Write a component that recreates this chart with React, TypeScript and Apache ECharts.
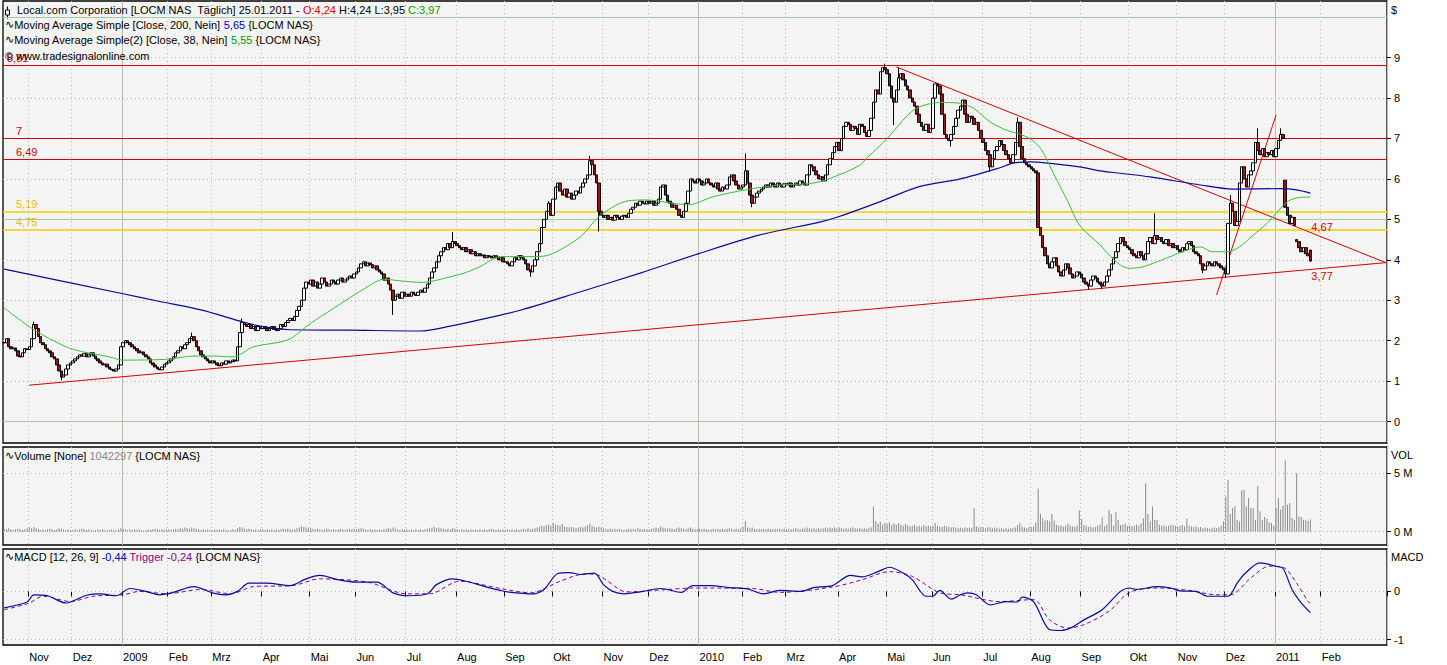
import React, { useEffect, useRef } from "react";
import * as echarts from "echarts";

const FONT = "'Liberation Sans', 'DejaVu Sans', Arial, sans-serif";
const RED = "#d80000";
const YELLOW = "#f2d200";
const YELLOW_TEXT = "#e6bf00";
const BG = "#f4f4f4";

// ---------- calendar ----------
const START = [2008, 9, 17];
const CATEGORY_COUNT = 605;
const LAST_MARKED_MONTH = "2011-02";
const HOLIDAYS = [
  "2008-11-27", "2008-12-25", "2009-01-01", "2009-01-19", "2009-02-16", "2009-04-10", "2009-05-25",
  "2009-07-03", "2009-09-07", "2009-11-26", "2009-12-25", "2010-01-01", "2010-01-18", "2010-02-15",
  "2010-04-02", "2010-05-31", "2010-07-05", "2010-09-06", "2010-11-25", "2010-12-24", "2011-01-17",
];
const MONTH_NAMES = ["Jan", "Feb", "Mrz", "Apr", "Mai", "Jun", "Jul", "Aug", "Sep", "Okt", "Nov", "Dez"];

// ---------- daily closes (Oct 17 2008 .. Jan 25 2011) ----------
const closes = [
  // Oct 08
  1.95, 2.05, 1.85, 1.80, 1.82, 1.75, 1.62, 1.60, 1.70, 1.80, 1.78,
  // Nov 08
  1.85, 2.05, 2.40, 2.30, 2.10, 1.95, 1.90, 1.80, 1.75, 1.70, 1.60, 1.55, 1.40, 1.25, 1.10, 1.15, 1.30, 1.40, 1.45,
  // Dec 08
  1.50, 1.55, 1.60, 1.65, 1.62, 1.68, 1.60, 1.65, 1.70, 1.62, 1.55, 1.50, 1.45, 1.40, 1.42, 1.35, 1.30, 1.28, 1.25, 1.30, 1.40, 1.85,
  // Jan 09
  1.95, 2.00, 1.95, 1.90, 1.85, 1.80, 1.75, 1.70, 1.72, 1.65, 1.60, 1.55, 1.45, 1.40, 1.35, 1.30, 1.28, 1.35, 1.42, 1.45,
  // Feb 09
  1.50, 1.55, 1.60, 1.70, 1.75, 1.85, 1.80, 1.90, 1.95, 2.05, 2.10, 2.00, 1.85, 1.75, 1.65, 1.60, 1.55, 1.50, 1.45,
  // Mar 09
  1.50, 1.45, 1.40, 1.38, 1.45, 1.42, 1.50, 1.45, 1.48, 1.52, 1.50, 1.85, 2.20, 2.45, 2.40, 2.35, 2.40, 2.30, 2.35, 2.25, 2.35, 2.30,
  // Apr 09
  2.35, 2.30, 2.25, 2.30, 2.35, 2.28, 2.25, 2.30, 2.40, 2.35, 2.45, 2.50, 2.55, 2.50, 2.60, 2.75, 2.85, 3.00, 3.30, 3.45, 3.40,
  // May 09
  3.50, 3.35, 3.45, 3.30, 3.40, 3.55, 3.45, 3.35, 3.40, 3.50, 3.45, 3.40, 3.50, 3.55, 3.45, 3.50, 3.55, 3.60, 3.55, 3.65,
  // Jun 09
  3.70, 3.80, 3.90, 3.95, 3.85, 3.92, 3.88, 3.80, 3.85, 3.75, 3.70, 3.65, 3.50, 3.55, 3.40, 3.25, 3.00, 3.10, 3.15, 3.05, 3.20, 3.10,
  // Jul 09
  3.15, 3.10, 3.20, 3.15, 3.12, 3.20, 3.25, 3.20, 3.30, 3.40, 3.55, 3.70, 3.80, 3.95, 4.10, 4.20, 4.30, 4.25, 4.40, 4.30, 4.45, 4.40,
  // Aug 09
  4.35, 4.30, 4.25, 4.30, 4.20, 4.25, 4.15, 4.20, 4.10, 4.15, 4.10, 4.12, 4.05, 4.10, 4.08, 4.05, 4.10, 4.05, 4.00, 4.05, 3.95,
  // Sep 09
  3.95, 3.90, 3.85, 3.95, 4.05, 4.00, 4.10, 4.05, 4.00, 3.90, 3.75, 3.70, 3.85, 4.00, 4.20, 4.40, 4.80, 5.00, 5.20, 5.40, 5.10,
  // Oct 09
  5.50, 5.80, 5.90, 5.70, 5.60, 5.75, 5.55, 5.65, 5.50, 5.60, 5.70, 5.65, 5.80, 5.90, 6.00, 6.10, 6.45, 6.35, 6.10, 5.90, 5.20, 5.10,
  // Nov 09
  5.05, 5.10, 5.00, 5.05, 4.98, 5.10, 5.05, 5.00, 5.08, 5.10, 5.05, 5.15, 5.25, 5.30, 5.40, 5.35, 5.45, 5.40, 5.38, 5.45,
  // Dec 09
  5.40, 5.45, 5.35, 5.40, 5.50, 5.80, 5.85, 5.60, 5.45, 5.40, 5.30, 5.35, 5.25, 5.10, 5.05, 5.20, 5.40, 5.70, 6.00, 5.95, 5.90, 6.00,
  // Jan 10
  5.95, 5.85, 5.90, 6.00, 5.90, 5.85, 5.80, 5.90, 5.75, 5.70, 5.80, 5.75, 5.85, 6.05, 6.10, 5.95, 5.85, 5.75, 5.80,
  // Feb 10
  5.85, 6.20, 5.90, 5.60, 5.40, 5.55, 5.65, 5.70, 5.75, 5.80, 5.85, 5.80, 5.90, 5.85, 5.80, 5.90, 5.85, 5.80, 5.88,
  // Mar 10
  5.85, 5.90, 5.80, 5.85, 5.90, 5.85, 5.95, 5.90, 5.85, 6.10, 6.35, 6.30, 6.20, 6.10, 6.00, 6.05, 5.95, 6.10, 6.35, 6.50, 6.65, 6.80, 6.90,
  // Apr 10
  6.70, 7.00, 7.30, 7.40, 7.35, 7.20, 7.30, 7.25, 7.10, 7.35, 7.30, 7.15, 7.05, 7.20, 7.50, 7.90, 8.20, 8.10, 8.65, 8.75, 8.70,
  // May 10
  8.60, 8.30, 8.00, 7.90, 8.20, 8.50, 8.60, 8.45, 8.30, 8.20, 8.00, 7.90, 7.80, 7.60, 7.40, 7.30, 7.20, 7.35, 7.15, 7.25,
  // Jun 10
  8.00, 8.35, 8.30, 8.10, 7.60, 7.10, 7.00, 6.95, 7.10, 7.30, 7.50, 7.70, 7.80, 7.95, 7.60, 7.40, 7.55, 7.50, 7.35, 7.40, 7.20, 7.00,
  // Jul 10
  6.90, 6.70, 6.60, 6.30, 6.50, 6.70, 6.80, 6.95, 6.85, 6.70, 6.60, 6.50, 6.40, 6.60, 6.90, 7.40, 6.80, 6.50, 6.40, 6.35, 6.30,
  // Aug 10
  6.25, 6.20, 6.15, 4.80, 4.60, 4.30, 4.10, 3.90, 3.80, 3.95, 4.05, 3.85, 3.70, 3.60, 3.75, 3.90, 3.80, 3.65, 3.55, 3.60, 3.70, 3.65,
  // Sep 10
  3.55, 3.45, 3.40, 3.35, 3.50, 3.60, 3.55, 3.45, 3.40, 3.35, 3.45, 3.60, 3.75, 3.90, 4.05, 4.20, 4.40, 4.55, 4.45, 4.35, 4.30,
  // Oct 10
  4.25, 4.15, 4.10, 4.05, 4.20, 4.10, 4.00, 4.15, 4.45, 4.55, 4.40, 4.60, 4.50, 4.55, 4.45, 4.40, 4.50, 4.35, 4.40, 4.30, 4.35,
  // Nov 10
  4.25, 4.20, 4.30, 4.25, 4.40, 4.45, 4.35, 4.20, 4.15, 4.10, 3.90, 3.75, 3.85, 3.95, 3.90, 3.85, 3.95, 3.90, 3.85, 3.80, 3.75,
  // Dec 10
  3.65, 4.90, 5.40, 5.20, 4.85, 4.95, 5.90, 6.30, 6.00, 5.80, 6.10, 6.20, 6.40, 6.90, 6.70, 6.60, 6.75, 6.55, 6.65, 6.60, 6.70, 6.55,
  // Jan 11
  6.75, 6.95, 7.10, 7.00, 5.30, 5.10, 4.90, 5.05, 4.85, 4.45, 4.30, 4.20, 4.30, 4.15, 4.10, 3.97,
];
// opens that differ from the previous close: [day index, open]
const gapOpens = [[560, 5.97], [565, 4.5], [571, 4.24]];
// visible wick extremes: [day index, value]
const wickHighs = [
  [13, 2.47], [82, 2.2], [104, 2.55], [196, 4.69], [238, 5.45], [256, 6.57], [324, 6.63], [385, 8.85],
  [391, 8.75], [443, 7.52], [503, 5.15], [536, 5.6], [548, 7.25], [558, 7.25], [571, 4.24],
];
const wickLows = [
  [25, 1.02], [170, 2.64], [230, 3.58], [260, 4.7], [327, 5.3], [389, 7.33], [414, 6.8], [431, 6.17],
  [474, 3.27], [480, 3.28], [524, 3.67], [534, 3.55], [571, 3.95],
];

// ---------- volume in millions ----------
const volumes = [
  0.25, 0.2, 0.3, 0.2, 0.15, 0.2, 0.25, 0.2, 0.15, 0.2, 0.3,
  0.35, 0.3, 0.4, 0.3, 0.2, 0.15, 0.2, 0.15, 0.2, 0.25, 0.2, 0.15, 0.2, 0.3, 0.25, 0.2, 0.15, 0.2, 0.15,
  0.15, 0.2, 0.15, 0.2, 0.25, 0.2, 0.15, 0.2, 0.15, 0.1, 0.15, 0.2, 0.15, 0.2, 0.15, 0.1, 0.15, 0.2, 0.15, 0.1, 0.2, 0.3,
  0.25, 0.2, 0.15, 0.2, 0.15, 0.2, 0.15, 0.2, 0.15, 0.1, 0.15, 0.2, 0.15, 0.2, 0.25, 0.2, 0.15, 0.2, 0.15, 0.2,
  0.2, 0.15, 0.2, 0.25, 0.2, 0.3, 0.25, 0.35, 0.3, 0.25, 0.35, 0.3, 0.25, 0.2, 0.15, 0.2, 0.15, 0.2, 0.15,
  0.15, 0.2, 0.15, 0.2, 0.15, 0.2, 0.15, 0.1, 0.15, 0.2, 0.15, 0.3, 0.4, 0.35, 0.25, 0.2, 0.25, 0.2, 0.15, 0.2, 0.15, 0.2,
  0.2, 0.15, 0.2, 0.15, 0.2, 0.15, 0.2, 0.15, 0.2, 0.25, 0.2, 0.25, 0.2, 0.15, 0.2, 0.3, 0.35, 0.45, 0.4, 0.35, 0.3,
  0.3, 0.25, 0.2, 0.25, 0.2, 0.15, 0.2, 0.25, 0.2, 0.15, 0.2, 0.15, 0.2, 0.25, 0.2, 0.15, 0.2, 0.25, 0.2, 0.25,
  0.2, 0.25, 0.3, 0.25, 0.2, 0.15, 0.2, 0.15, 0.2, 0.15, 0.2, 0.15, 0.2, 0.25, 0.3, 0.25, 0.35, 0.25, 0.2, 0.15, 0.2, 0.15,
  0.2, 0.15, 0.2, 0.15, 0.2, 0.15, 0.2, 0.15, 0.2, 0.25, 0.3, 0.35, 0.4, 0.3, 0.35, 0.3, 0.25, 0.2, 0.25, 0.2, 0.3, 0.25,
  0.2, 0.15, 0.2, 0.15, 0.2, 0.15, 0.2, 0.15, 0.2, 0.15, 0.2, 0.15, 0.2, 0.15, 0.2, 0.25, 0.2, 0.15, 0.2, 0.15, 0.2,
  0.15, 0.2, 0.15, 0.2, 0.15, 0.2, 0.15, 0.2, 0.25, 0.2, 0.3, 0.2, 0.25, 0.3, 0.35, 0.4, 0.5, 0.45, 0.55, 0.6, 0.5,
  0.75, 0.6, 0.55, 0.5, 0.65, 0.45, 0.4, 0.35, 0.4, 0.35, 0.3, 0.35, 0.4, 0.35, 0.45, 0.55, 0.7, 0.5, 0.4, 0.35, 0.45, 0.35,
  0.3, 0.25, 0.2, 0.25, 0.2, 0.25, 0.2, 0.25, 0.2, 0.15, 0.2, 0.25, 0.2, 0.25, 0.2, 0.3, 0.25, 0.2, 0.25, 0.2,
  0.2, 0.25, 0.3, 0.35, 0.3, 0.45, 0.35, 0.3, 0.25, 0.3, 0.25, 0.2, 0.3, 0.35, 0.3, 0.25, 0.2, 0.3, 0.35, 0.25, 0.2, 0.2,
  0.25, 0.2, 0.25, 0.2, 0.15, 0.2, 0.25, 0.2, 0.25, 0.2, 0.25, 0.2, 0.25, 0.3, 0.25, 0.2, 0.25, 0.2, 0.3,
  0.4, 0.9, 0.35, 0.3, 0.35, 0.25, 0.2, 0.25, 0.2, 0.25, 0.2, 0.25, 0.2, 0.2, 0.25, 0.2, 0.25, 0.2, 0.25,
  0.2, 0.25, 0.2, 0.25, 0.3, 0.25, 0.2, 0.25, 0.3, 0.35, 0.3, 0.25, 0.3, 0.25, 0.3, 0.25, 0.3, 0.35, 0.3, 0.35, 0.3, 0.35, 0.3,
  0.35, 0.3, 0.25, 0.3, 0.25, 0.3, 0.35, 0.3, 0.25, 0.3, 0.25, 0.3, 0.25, 0.3, 0.35, 2.15, 0.9, 0.7, 0.85, 0.6, 0.75,
  0.65, 0.8, 0.55, 0.7, 0.6, 0.75, 0.6, 0.5, 0.65, 0.55, 0.45, 0.5, 0.6, 0.45, 0.5, 0.4, 0.55, 0.45, 0.5, 0.45,
  0.5, 0.75, 0.5, 0.45, 0.4, 0.5, 0.45, 0.4, 0.35, 0.4, 0.35, 0.3, 0.35, 0.3, 0.35, 0.3, 0.35, 0.3, 2.0, 0.45, 0.35, 0.4,
  0.35, 0.3, 0.35, 0.4, 0.3, 0.35, 0.3, 0.25, 0.3, 0.25, 0.3, 0.25, 0.3, 0.3, 0.35, 0.55, 0.75, 0.45, 0.35, 0.3, 0.4,
  0.4, 0.45, 0.8, 3.65, 1.55, 1.15, 0.95, 1.0, 0.9, 1.5, 0.95, 0.6, 0.5, 0.55, 0.45, 0.5, 0.7, 0.55, 0.45, 0.4, 0.5, 1.8,
  1.1, 0.6, 0.5, 0.4, 0.45, 0.35, 0.4, 0.5, 0.6, 1.2, 0.45, 0.6, 1.85, 1.5, 0.5, 1.65, 1.0, 0.55, 0.6, 0.7, 0.5,
  0.55, 0.45, 0.5, 0.6, 0.5, 0.7, 1.15, 4.1, 1.5, 0.9, 2.15, 1.0, 1.0, 0.6, 0.5, 0.55, 0.45, 0.5, 0.6, 0.55, 0.5,
  0.45, 0.5, 0.6, 0.45, 1.1, 0.5, 0.45, 0.4, 0.45, 0.35, 0.4, 0.3, 0.35, 0.3, 0.25, 0.3, 0.35, 0.3, 0.35, 0.5, 0.9,
  3.0, 4.43, 1.5, 2.0, 2.16, 1.02, 0.88, 3.5, 3.6, 2.16, 2.87, 2.02, 2.0, 1.0, 3.86, 1.73, 1.02, 1.25, 1.1, 0.8, 0.74, 0.5,
  2.02, 2.87, 1.87, 2.2, 6.07, 2.3, 2.44, 1.16, 1.02, 5.0, 1.3, 1.25, 1.02, 0.97, 0.94, 1.04,
];
const lastVolume = 1042297;

// ---------- indicators: [day index, value] ----------
const ma200 = [
  [0, 3.77], [52, 3.16], [68, 2.97], [86, 2.76], [104, 2.47], [112, 2.36], [125, 2.27], [150, 2.26], [182, 2.24],
  [195, 2.36], [208, 2.52], [226, 2.76], [252, 3.21], [278, 3.67], [304, 4.16], [330, 4.61], [357, 4.94], [365, 5.07],
  [383, 5.44], [400, 5.81], [418, 6.0], [435, 6.27], [441, 6.39], [449, 6.42], [453, 6.41], [470, 6.3], [479, 6.2],
  [488, 6.14], [501, 6.05], [523, 5.85], [537, 5.75], [558, 5.76], [565, 5.73], [571, 5.65],
];
const ma38 = [
  [0, 2.81], [13, 2.27], [27, 1.85], [34, 1.73], [46, 1.6], [52, 1.52], [71, 1.54], [83, 1.62], [91, 1.62], [100, 1.6],
  [109, 1.85], [124, 2.02], [134, 2.43], [144, 2.8], [159, 3.34], [166, 3.52], [173, 3.48], [183, 3.44], [195, 3.58],
  [201, 3.67], [208, 3.83], [217, 4.08], [234, 4.08], [240, 4.16], [252, 4.57], [260, 5.07], [272, 5.45], [281, 5.48],
  [292, 5.4], [299, 5.36], [310, 5.56], [325, 5.74], [339, 5.85], [354, 5.9], [365, 6.1], [374, 6.34], [377, 6.51],
  [386, 7.0], [395, 7.58], [400, 7.78], [409, 7.89], [418, 7.87], [424, 7.74], [431, 7.41], [438, 7.21], [447, 7.04],
  [453, 6.76], [459, 6.1], [465, 5.44], [470, 4.86], [479, 4.37], [483, 4.12], [488, 3.87], [492, 3.79], [498, 3.83],
  [508, 4.04], [517, 4.24], [523, 4.32], [528, 4.2], [535, 4.2], [540, 4.32], [546, 4.61], [552, 4.9], [556, 5.15],
  [561, 5.44], [566, 5.54], [571, 5.55],
];
const macd = [
  [0, -0.34], [10, -0.22], [13, -0.07], [19, -0.09], [27, -0.24], [36, -0.08], [42, -0.05], [49, -0.09], [55, 0.06],
  [62, 0], [68, -0.07], [74, -0.02], [83, 0.1], [91, -0.03], [97, -0.07], [102, 0], [107, 0.17], [115, 0.17], [125, 0.12],
  [132, 0.26], [138, 0.33], [146, 0.24], [154, 0.19], [163, 0.19], [170, -0.03], [177, -0.09], [185, -0.05], [189, 0.14],
  [196, 0.26], [202, 0.21], [211, 0.09], [217, 0.02], [220, -0.01], [231, -0.05], [236, 0.04], [242, 0.37], [247, 0.39],
  [252, 0.35], [258, 0.38], [262, 0.14], [266, 0], [271, -0.05], [278, -0.01], [287, 0.06], [296, -0.02], [301, 0.12],
  [309, 0.12], [317, 0.08], [325, 0.05], [332, -0.05], [339, 0.02], [348, 0], [354, 0.08], [362, 0.12], [370, 0.33],
  [375, 0.3], [382, 0.41], [387, 0.5], [393, 0.38], [397, 0.24], [403, -0.1], [406, -0.1], [409, 0.02], [414, -0.16],
  [418, -0.07], [421, -0.03], [425, -0.07], [431, -0.28], [438, -0.21], [443, -0.22], [445, -0.12], [450, -0.21],
  [457, -0.79], [462, -0.81], [467, -0.74], [472, -0.59], [480, -0.38], [488, 0], [492, 0.07], [495, 0.04], [504, 0.1],
  [510, 0.07], [514, 0.01], [521, 0], [526, -0.1], [535, -0.1], [539, 0.17], [542, 0.35], [549, 0.59], [556, 0.52],
  [559, 0.48], [563, 0.04], [567, -0.24], [571, -0.44],
];
const trigger = [
  [0, -0.38], [11, -0.24], [17, -0.1], [29, -0.21], [39, -0.1], [52, -0.07], [59, 0], [71, -0.05], [86, 0.04],
  [99, -0.05], [109, 0.1], [126, 0.12], [138, 0.26], [159, 0.19], [176, -0.05], [186, -0.05], [199, 0.21], [217, 0.06],
  [230, -0.03], [243, 0.21], [252, 0.35], [258, 0.36], [263, 0.24], [272, -0.01], [290, 0.04], [301, 0.07], [327, 0.06],
  [339, -0.02], [362, 0.09], [375, 0.24], [387, 0.41], [397, 0.31], [409, -0.03], [418, -0.07], [435, -0.21],
  [450, -0.17], [457, -0.59], [465, -0.76], [472, -0.69], [483, -0.41], [492, -0.02], [504, 0.07], [518, 0.02],
  [530, -0.07], [536, -0.07], [545, 0.28], [553, 0.52], [559, 0.5], [565, 0.17], [570, -0.21], [571, -0.24],
];

// ---------- drawn annotations ----------
const redLevels = [8.81, 7, 6.49];
const yellowLevels = [5.19, 4.75];
// trend lines: [startIndex, startValue, endIndex, endValue]
const trendLines = [
  [11, 0.9, 604, 3.93],
  [390, 8.77, 604, 3.93],
  [530, 3.13, 556, 7.58],
];
// values read at the last bar: [index, value, side]
const trendLabels = [
  [571, 4.67, -1],
  [571, 3.77, 1],
];

// ---------- axis ticks ----------
const PRICE_TICKS = [0, 1, 2, 3, 4, 5, 6, 7, 8, 9];
const PRICE_DOTTED = [1, 2, 3, 4, 6, 7, 8, 9];
const PRICE_SOLID = [0, 5, 10];
const VOL_TICKS = [0, 5];
const MACD_TICKS = [-1, 0];

const fmt = (v: number) => v.toFixed(2).replace(".", ",");
const fmtLevel = (v: number) => (Number.isInteger(v) ? String(v) : fmt(v));

function buildDates() {
  const hol = new Set(HOLIDAYS);
  const out: string[] = [];
  const d = new Date(Date.UTC(START[0], START[1], START[2]));
  while (out.length < CATEGORY_COUNT) {
    const wd = d.getUTCDay();
    const s = d.toISOString().slice(0, 10);
    if (wd !== 0 && wd !== 6 && !hol.has(s)) out.push(s);
    d.setUTCDate(d.getUTCDate() + 1);
  }
  return out;
}

function buildCandles() {
  const gap = new Map(gapOpens.map((g) => [g[0], g[1]]));
  const hi = new Map(wickHighs.map((g) => [g[0], g[1]]));
  const lo = new Map(wickLows.map((g) => [g[0], g[1]]));
  return closes.map((c, i) => {
    const o = gap.has(i) ? (gap.get(i) as number) : i === 0 ? c : closes[i - 1];
    let h = Math.max(o, c);
    let l = Math.min(o, c);
    if (hi.has(i)) h = Math.max(h, hi.get(i) as number);
    if (lo.has(i)) l = Math.min(l, lo.get(i) as number);
    return [o, c, l, h];
  });
}

function buildOption() {
  const dates = buildDates();
  const monthStart = dates.map(
    (d, i) => i > 0 && d.slice(0, 7) !== dates[i - 1].slice(0, 7) && d.slice(0, 7) <= LAST_MARKED_MONTH
  );
  const yearStart = dates.map((d, i) => monthStart[i] && d.slice(5, 7) === "01");
  const monthLabel = (d: string) => {
    const m = Number(d.slice(5, 7));
    return m === 1 ? d.slice(0, 4) : MONTH_NAMES[m - 1];
  };
  const candles = buildCandles();
  const last = candles[candles.length - 1];

  const xPair = (gridIndex: number, withLabels: boolean) => [
    {
      type: "category",
      gridIndex,
      data: dates,
      boundaryGap: true,
      axisLine: { show: false },
      axisTick: withLabels
        ? { show: true, interval: (i: number) => monthStart[i], length: 5, lineStyle: { color: "#000" } }
        : { show: false },
      axisLabel: withLabels
        ? {
            show: true,
            interval: (i: number) => monthStart[i],
            formatter: (v: string) => monthLabel(v),
            align: "left",
            margin: 6,
            color: "#000",
            fontSize: 11,
            fontFamily: FONT,
          }
        : { show: false },
      splitLine: {
        show: true,
        interval: (i: number) => monthStart[i] && !yearStart[i],
        lineStyle: { color: "#b8b8b8", type: [1, 3], width: 1 },
      },
    },
    {
      type: "category",
      gridIndex,
      data: dates,
      boundaryGap: true,
      position: "top",
      axisLine: { show: false },
      axisTick: { show: false },
      axisLabel: { show: false },
      splitLine: { show: true, interval: (i: number) => yearStart[i], lineStyle: { color: "#a9c4a9", width: 1 } },
    },
  ];

  const yAxisBase = (gridIndex: number, min: number, max: number, ticks: number[], formatter?: (v: number) => string) => ({
    type: "value",
    gridIndex,
    position: "right",
    min,
    max,
    axisLine: { show: false },
    axisTick: { show: true, inside: false, length: 4, customValues: ticks, lineStyle: { color: "#000" } },
    axisLabel: {
      show: true,
      customValues: ticks,
      margin: 7,
      color: "#000",
      fontSize: 11,
      fontFamily: FONT,
      formatter: formatter || ((v: number) => String(v)),
    },
    splitLine: { show: false },
  });

  const gridLines = (dotted: number[], solid: number[]) => [
    ...dotted.map((v) => ({ yAxis: v, lineStyle: { color: "#b8b8b8", type: [1, 3], width: 1 } })),
    ...solid.map((v) => ({ yAxis: v, lineStyle: { color: "#a9c4a9", type: "solid", width: 1 } })),
  ];

  const levelLine = (v: number, k: number, color: string, textColor: string, width: number) => ({
    yAxis: v,
    lineStyle: { color, type: "solid", width },
    label: {
      show: true,
      position: "insideStartTop",
      formatter: fmtLevel(v),
      color: textColor,
      fontSize: 11,
      fontFamily: FONT,
      distance: [k === 0 && v > 8 ? 4 : 13, 2],
    },
  });

  const grids = [
    { left: 3, right: 60, top: 1, height: 442 },
    { left: 3, right: 60, top: 447, height: 98 },
    { left: 3, right: 60, top: 549, height: 96 },
  ].map((g) => ({ ...g, show: true, backgroundColor: BG, borderColor: "#000", borderWidth: 1.3 }));

  const txt = (left: number, top: number, text: string, rich: Record<string, any>) => ({
    type: "text",
    left,
    top,
    z: 100,
    style: { text, rich, fontSize: 11, fontFamily: FONT, fill: "#000" },
  });

  const richBase = {
    k: { fill: "#000", color: "#000", fontSize: 11, fontFamily: FONT },
    r: { fill: RED, color: RED, fontSize: 11, fontFamily: FONT },
    g: { fill: "#00a000", color: "#00a000", fontSize: 11, fontFamily: FONT },
    b: { fill: "#0000c8", color: "#0000c8", fontSize: 11, fontFamily: FONT },
    p: { fill: "#8a008a", color: "#8a008a", fontSize: 11, fontFamily: FONT },
    s: { fill: "#888", color: "#888", fontSize: 11, fontFamily: FONT },
    w: { fill: "#000", color: "#000", fontSize: 11, fontFamily: "'DejaVu Sans', sans-serif" },
  };

  const ma200Last = ma200[ma200.length - 1][1];
  const ma38Last = ma38[ma38.length - 1][1];
  const macdLast = macd[macd.length - 1][1];
  const trigLast = trigger[trigger.length - 1][1];
  const SYMBOL = " {LOCM NAS}";

  const graphic = [
    {
      type: "group",
      left: 5,
      top: 4,
      children: [
        { type: "line", shape: { x1: 2.5, y1: 0, x2: 2.5, y2: 12 }, style: { stroke: "#000", lineWidth: 1 } },
        { type: "rect", shape: { x: 0.5, y: 3.5, width: 4, height: 5 }, style: { fill: "#fff", stroke: "#000", lineWidth: 1 } },
      ],
    },
    txt(
      17,
      4,
      `{k|Local.com Corporation [LOCM NAS  Täglich] 25.01.2011 - }{r|O:${fmt(last[0])}}{k| H:${fmt(last[3])} L:${fmt(
        last[2]
      )} }{g|C:${fmt(last[1])}}`,
      richBase
    ),
    txt(5, 19, `{w|∿}{k|Moving Average Simple [Close, 200, Nein] }{b|${fmt(ma200Last)}}${SYMBOL}`, richBase),
    txt(5, 34, `{w|∿}{k|Moving Average Simple(2) [Close, 38, Nein] }{g|${fmt(ma38Last)}}${SYMBOL}`, richBase),
    txt(5, 50, "{k|© www.tradesignalonline.com}", richBase),
    txt(5, 450, `{w|∿}{k|Volume [None] }{s|${lastVolume}}${SYMBOL}`, richBase),
    txt(5, 551, `{w|∿}{k|MACD [12, 26, 9] }{b|${fmt(macdLast)}}{p| Trigger ${fmt(trigLast)}}${SYMBOL}`, richBase),
    txt(1391, 4, "{k|$}", richBase),
    txt(1391, 449, "{k|VOL}", richBase),
    txt(1391, 551, "{k|MACD}", richBase),
  ];

  const option = {
    animation: false,
    backgroundColor: "#ffffff",
    textStyle: { fontFamily: FONT },
    grid: grids,
    xAxis: [...xPair(0, false), ...xPair(1, false), ...xPair(2, true)],
    yAxis: [
      yAxisBase(0, -0.53, 10.4, PRICE_TICKS),
      yAxisBase(1, -1.13, 7.21, VOL_TICKS, (v: number) => `${v} M`),
      yAxisBase(2, -1.11, 0.878, MACD_TICKS),
    ],
    graphic,
    series: [
      {
        type: "line",
        name: "price-grid",
        xAxisIndex: 0,
        yAxisIndex: 0,
        data: [],
        silent: true,
        markLine: { silent: true, symbol: ["none", "none"], z: 1, label: { show: false }, data: gridLines(PRICE_DOTTED, PRICE_SOLID) },
      },
      {
        type: "line",
        name: "levels",
        xAxisIndex: 0,
        yAxisIndex: 0,
        data: [],
        silent: true,
        markLine: {
          silent: true,
          symbol: ["none", "none"],
          z: 1,
          label: { show: false },
          data: [
            ...redLevels.map((v, k) => levelLine(v, k, RED, RED, 1)),
            ...yellowLevels.map((v, k) => levelLine(v, k + 3, YELLOW, YELLOW_TEXT, 1.5)),
            ...trendLines.map((t) => [
              { coord: [t[0], t[1]], lineStyle: { color: RED, type: "solid", width: 1 } },
              { coord: [t[2], t[3]] },
            ]),
          ],
        },
        markPoint: {
          silent: true,
          symbol: "circle",
          symbolSize: 0,
          z: 6,
          data: trendLabels.map((t) => ({
            coord: [t[0], t[1]],
            label: {
              show: true,
              position: "right",
              distance: 1,
              offset: [0, t[2] < 0 ? -6 : 7],
              formatter: fmt(t[1]),
              color: RED,
              fontSize: 11,
              fontFamily: FONT,
            },
          })),
        },
      },
      {
        type: "candlestick",
        name: "LOCM",
        xAxisIndex: 0,
        yAxisIndex: 0,
        data: candles,
        z: 2,
        barWidth: 3,
        itemStyle: { color: "#ffffff", color0: "#a01414", borderColor: "#000", borderColor0: "#000", borderWidth: 1 },
      },
      {
        type: "line",
        name: "MA200",
        xAxisIndex: 0,
        yAxisIndex: 0,
        data: ma200,
        z: 3,
        symbol: "none",
        smooth: 0.3,
        lineStyle: { color: "#0a0a9a", width: 1.2 },
      },
      {
        type: "line",
        name: "MA38",
        xAxisIndex: 0,
        yAxisIndex: 0,
        data: ma38,
        z: 3,
        symbol: "none",
        smooth: 0.3,
        lineStyle: { color: "#38c038", width: 1 },
      },
      {
        type: "line",
        name: "vol-grid",
        xAxisIndex: 2,
        yAxisIndex: 1,
        data: [],
        silent: true,
        markLine: { silent: true, symbol: ["none", "none"], z: 1, label: { show: false }, data: gridLines(VOL_TICKS, []) },
      },
      {
        type: "bar",
        name: "Volume",
        xAxisIndex: 2,
        yAxisIndex: 1,
        data: volumes,
        z: 2,
        barWidth: 1,
        itemStyle: { color: "#8a8a8a" },
      },
      {
        type: "line",
        name: "macd-grid",
        xAxisIndex: 4,
        yAxisIndex: 2,
        data: [],
        silent: true,
        markLine: { silent: true, symbol: ["none", "none"], z: 1, label: { show: false }, data: gridLines(MACD_TICKS, []) },
      },
      {
        type: "line",
        name: "Trigger",
        xAxisIndex: 4,
        yAxisIndex: 2,
        data: trigger,
        z: 3,
        symbol: "none",
        smooth: 0.3,
        lineStyle: { color: "#8a008a", width: 1, type: [4, 3] },
      },
      {
        type: "line",
        name: "MACD",
        xAxisIndex: 4,
        yAxisIndex: 2,
        data: macd,
        z: 3,
        symbol: "none",
        smooth: 0.3,
        lineStyle: { color: "#0a0a9a", width: 1.2 },
      },
    ],
  };
  return option;
}

export default function App() {
  const ref = useRef<HTMLDivElement>(null);
  useEffect(() => {
    if (!ref.current) return;
    const chart = echarts.init(ref.current, null, { renderer: "svg" });
    chart.setOption(buildOption() as any);
    return () => chart.dispose();
  }, []);
  return (
    <div
      ref={ref}
      style={{ position: "fixed", left: 0, top: 0, width: 1447, height: 665, background: "#ffffff" }}
    />
  );
}
